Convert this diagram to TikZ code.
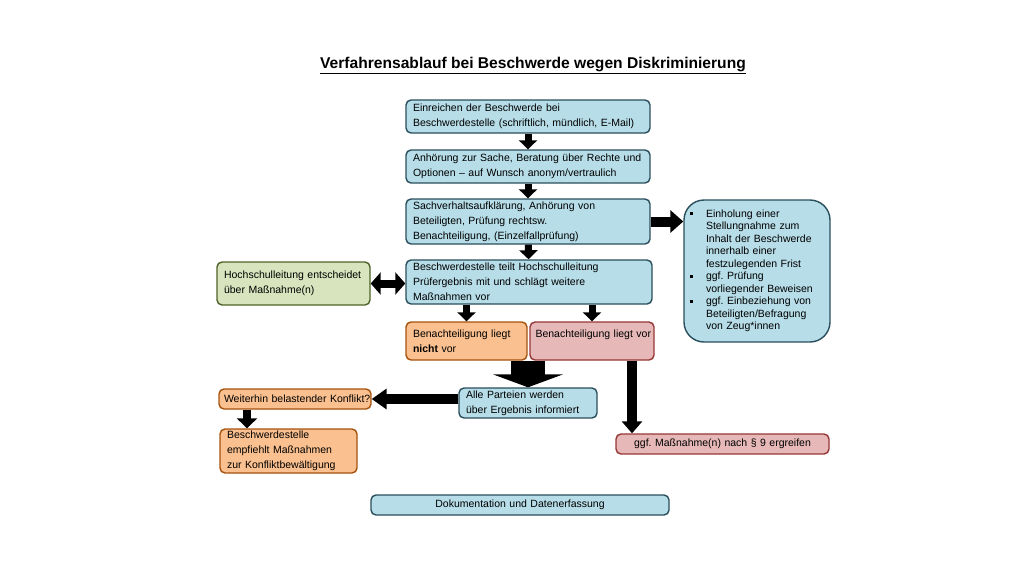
\documentclass[tikz,border=0pt]{standalone}
\usepackage{fontspec}
\setmainfont{Liberation Sans}
\usepackage{xcolor}
\usetikzlibrary{arrows.meta, positioning}

\definecolor{blaufill}{HTML}{B7DDE8}
\definecolor{blaurand}{HTML}{2A4F5C}
\definecolor{gruenfill}{HTML}{D7E4BD}
\definecolor{gruenrand}{HTML}{4F6228}
\definecolor{orangefill}{HTML}{FAC08F}
\definecolor{orangerand}{HTML}{A5520E}
\definecolor{rosafill}{HTML}{E6B9B8}
\definecolor{rosarand}{HTML}{953735}

\newcommand{\bul}{\makebox[16pt][l]{\raisebox{2pt}{\rule{3.4pt}{3.4pt}}}}
\newcommand{\einr}{\hspace*{16pt}}

\tikzset{
  kasten/.style={draw, rounded corners=5pt, line width=1.4pt, align=left,
    inner xsep=7pt, inner ysep=0pt, font=\fontsize{10.5}{14.8}\selectfont},
  blau/.style={kasten, fill=blaufill, draw=blaurand},
  gruen/.style={kasten, fill=gruenfill, draw=gruenrand},
  orange/.style={kasten, fill=orangefill, draw=orangerand},
  rosa/.style={kasten, fill=rosafill, draw=rosarand},
  pfeil/.style={line width=7pt, -{Triangle[length=9pt, width=18pt]}},
}

\begin{document}
\begin{tikzpicture}[x=1pt, y=-1pt]
\useasboundingbox (0,0) rectangle (1024,576);

% Titel
\node (titel) at (533,65) {\fontsize{15.6}{18}\selectfont\bfseries\underline{Verfahrensablauf bei Beschwerde wegen Diskriminierung}};

% Hauptstrang
\node[blau, text width=230pt, minimum height=33pt] (ein) at (528,116.5)
  {Einreichen der Beschwerde bei\\Beschwerdestelle (schriftlich, mündlich, E-Mail)};
\node[blau, text width=230pt, minimum height=33pt] (anh) at (528,166.5)
  {Anhörung zur Sache, Beratung über Rechte und\\Optionen – auf Wunsch anonym/vertraulich};
\node[blau, text width=230pt, minimum height=45pt] (sach) at (528,221.5)
  {Sachverhaltsaufklärung, Anhörung von\\Beteiligten, Prüfung rechtsw.\\Benachteiligung, (Einzelfallprüfung)};
\node[blau, text width=232pt, minimum height=44pt] (teilt) at (529,282)
  {Beschwerdestelle teilt Hochschulleitung\\Prüfergebnis mit und schlägt weitere\\Maßnahmen vor};

% Seitenkaesten
\node[gruen, text width=139pt, minimum height=43pt] (hsl) at (293.5,283.5)
  {Hochschulleitung entscheidet\\über Maßnahme(n)};
\node[blau, rounded corners=20pt, inner xsep=6pt, text width=134pt, minimum height=142pt,
  font=\fontsize{10.5}{12.5}\selectfont] (einh) at (757,271)
  {\bul Einholung einer\\\einr Stellungnahme zum\\\einr Inhalt der Beschwerde\\\einr innerhalb einer\\\einr festzulegenden Frist\\
   \bul ggf.\ Prüfung\\\einr vorliegender Beweisen\\
   \bul ggf.\ Einbeziehung von\\\einr Beteiligten/Befragung\\\einr von Zeug*innen};

% Ergebnis
\node[orange, text width=107pt, minimum height=38pt] (nicht) at (466.5,341)
  {Benachteiligung liegt\\\textbf{nicht} vor};
\node[rosa, inner xsep=5.5pt, text width=113pt, minimum height=38pt] (liegt) at (592,341)
  {\mbox{Benachteiligung liegt vor}\\\mbox{}};

\node[blau, text width=124pt, minimum height=30pt] (alle) at (528,403)
  {Alle Parteien werden\\über Ergebnis informiert};
\node[orange, inner xsep=5pt, text width=142pt, minimum height=20pt] (weiter) at (295,399)
  {\mbox{Weiterhin belastender Konflikt?}};
\node[orange, text width=123pt, minimum height=44pt] (empf) at (288.5,451)
  {Beschwerdestelle\\empfiehlt Maßnahmen\\zur Konfliktbewältigung};
\node[rosa, align=center, text width=199pt, minimum height=20pt] (ggf) at (722.5,444)
  {ggf.\ Maßnahme(n) nach § 9 ergreifen};

\node[blau, align=center, text width=284pt, minimum height=20pt] (doku) at (520,505)
  {Dokumentation und Datenerfassung};

% Pfeile
\draw[pfeil] (ein) -- (anh);
\draw[pfeil] (anh) -- (sach);
\draw[pfeil] (sach) -- (teilt);
\draw[pfeil] (teilt.south -| nicht) -- (nicht.north);
\draw[pfeil] (teilt.south -| liegt) -- (liegt.north);
\draw[line width=10pt, -{Triangle[length=13pt, width=22pt]}] (sach.east) -- (sach.east -| einh.west);
\draw[line width=8pt, {Triangle[length=10pt, width=22pt]}-{Triangle[length=10pt, width=22pt]}]
  (hsl.east) -- (hsl.east -| teilt.west);
\draw[line width=34pt, -{Triangle[length=13pt, width=70pt]}] (alle.north |- nicht.south) -- (alle.north);
\draw[line width=10pt, -{Triangle[length=15pt, width=20pt]}] (alle.west |- weiter) -- (weiter.east);
\draw[line width=8pt, -{Triangle[length=10pt, width=20pt]}]
  ([xshift=-48pt]weiter.south) -- ([xshift=-48pt]weiter.south |- empf.north);
\draw[line width=10pt, -{Triangle[length=12pt, width=20pt]}]
  ([xshift=40pt]liegt.south) -- ([xshift=40pt]liegt.south |- ggf.north);
\end{tikzpicture}
\end{document}
